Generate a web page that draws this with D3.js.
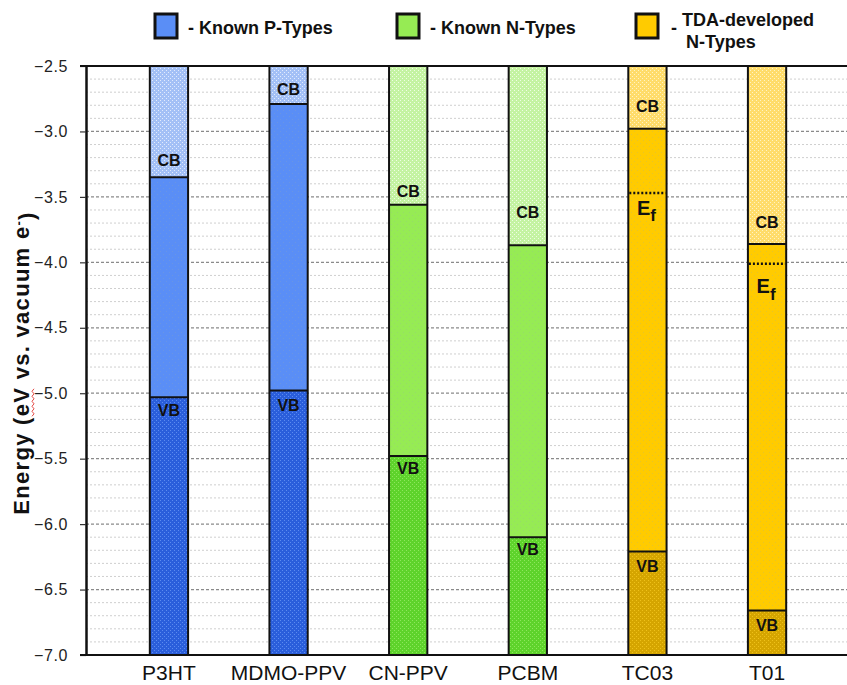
<!DOCTYPE html>
<html>
<head>
<meta charset="utf-8">
<script src="https://cdn.jsdelivr.net/npm/d3@7"></script>
<style>
  html, body { margin: 0; padding: 0; background: #fff; }
  svg text { font-family: "Liberation Sans", Arial, sans-serif; }
</style>
</head>
<body>
<svg id="chart" width="847" height="685"></svg>
<script>
// Materials and their energy levels (eV vs. vacuum)
const categories = ["P3HT", "MDMO-PPV", "CN-PPV", "PCBM", "TC03", "T01"];
const groups = ["p", "p", "n", "n", "tda", "tda"];
const cbLevels = [-3.35, -2.79, -3.56, -3.87, -2.98, -3.86];
const vbLevels = [-5.03, -4.98, -5.48, -6.10, -6.21, -6.66];
const fermiLevels = [null, null, null, null, -3.47, -4.01];
// where the band annotations sit, in eV
const cbLabelAt = [-3.22, -2.68, -3.46, -3.62, -2.81, -3.69];
const vbLabelAt = [-5.13, -5.09, -5.57, -6.19, -6.32, -6.77];
const efLabelAt = [null, null, null, null, -3.58, -4.18];
const yTicks = [-2.5, -3.0, -3.5, -4.0, -4.5, -5.0, -5.5, -6.0, -6.5, -7.0];
const yMinorTicks = d3.range(-25, -71, -1).map(v => v / 10);
const legendGroups = ["p", "n", "tda"];
const legendLabels = [["- Known P-Types"], ["- Known N-Types"], ["TDA-developed", "N-Types"]];

const palette = {
  p:   { cb: "#a3c0f6", cbDot: "#e2ebfd", mid: "#5a8ef6", vb: "#2a5edb", vbDot: "#5c8bf0" },
  n:   { cb: "#c4f3a2", cbDot: "#effde4", mid: "#96eb54", vb: "#5ed32b", vbDot: "#8de75c" },
  tda: { cb: "#ffdc6a", cbDot: "#fff3c4", mid: "#ffcb00", vb: "#d5a500", vbDot: "#efc11a" }
};

const svg = d3.select("#chart");
const plot = { left: 86, right: 847, top: 66, bottom: 655 };

const y = d3.scaleLinear().domain([-2.5, -7.0]).range([plot.top, plot.bottom]);
const x = d3.scaleBand().domain(categories)
  .range([plot.left + 4, plot.right - 1])
  .paddingInner(0.68).paddingOuter(0.5);

// textured fills for the band regions
const defs = svg.append("defs");
Object.entries(palette).forEach(([k, c]) => {
  const pc = defs.append("pattern").attr("id", "cb-" + k)
    .attr("width", 4).attr("height", 4).attr("patternUnits", "userSpaceOnUse");
  pc.append("rect").attr("width", 4).attr("height", 4).attr("fill", c.cb);
  pc.append("rect").attr("x", 0).attr("y", 0).attr("width", 1).attr("height", 1).attr("fill", c.cbDot);
  pc.append("rect").attr("x", 2).attr("y", 2).attr("width", 1).attr("height", 1).attr("fill", c.cbDot);

  const pv = defs.append("pattern").attr("id", "vb-" + k)
    .attr("width", 4).attr("height", 4).attr("patternUnits", "userSpaceOnUse");
  pv.append("rect").attr("width", 4).attr("height", 4).attr("fill", c.vb);
  pv.append("rect").attr("x", 0).attr("y", 0).attr("width", 1).attr("height", 1).attr("fill", c.vbDot);
  pv.append("rect").attr("x", 2).attr("y", 2).attr("width", 1).attr("height", 1).attr("fill", c.vbDot);

  const pm = defs.append("pattern").attr("id", "mid-" + k)
    .attr("width", 6).attr("height", 6).attr("patternUnits", "userSpaceOnUse");
  pm.append("rect").attr("width", 6).attr("height", 6).attr("fill", c.mid);
  pm.append("rect").attr("x", 1).attr("y", 2).attr("width", 1).attr("height", 1).attr("fill", "#9aa").attr("opacity", 0.25);
  pm.append("rect").attr("x", 4).attr("y", 5).attr("width", 1).attr("height", 1).attr("fill", "#9aa").attr("opacity", 0.25);
});

// gridlines
const grid = svg.append("g");
grid.selectAll("line.minor").data(yMinorTicks.filter(v => !yTicks.some(t => Math.abs(t - v) < 1e-6)))
  .join("line").attr("class", "minor")
  .attr("x1", plot.left).attr("x2", plot.right)
  .attr("y1", d => y(d)).attr("y2", d => y(d))
  .attr("stroke", "#cfcfcf").attr("stroke-width", 1).attr("stroke-dasharray", "2,2");
grid.selectAll("line.major").data(yTicks.slice(1, -1))
  .join("line").attr("class", "major")
  .attr("x1", plot.left).attr("x2", plot.right)
  .attr("y1", d => y(d)).attr("y2", d => y(d))
  .attr("stroke", "#8a8a8a").attr("stroke-width", 1.2).attr("stroke-dasharray", "3,2");

// y axis
const yAxis = svg.append("g").attr("transform", `translate(${plot.left},0)`)
  .call(d3.axisLeft(y).tickValues(yTicks).tickFormat(d3.format(".1f")).tickSize(6).tickSizeOuter(0).tickPadding(12));
yAxis.select(".domain").attr("stroke", "#111").attr("stroke-width", 2.5);
yAxis.selectAll(".tick line").attr("stroke", "#333").attr("stroke-width", 1.2);
yAxis.selectAll(".tick text").attr("font-size", 16).attr("fill", "#222")
  .attr("letter-spacing", "0.6px")
  .attr("font-family", "'Liberation Sans', Arial, sans-serif");

// top and bottom frame lines
svg.append("line").attr("x1", plot.left - 6).attr("x2", plot.right)
  .attr("y1", plot.top).attr("y2", plot.top).attr("stroke", "#111").attr("stroke-width", 2);
svg.append("line").attr("x1", plot.left - 6).attr("x2", plot.right)
  .attr("y1", plot.bottom).attr("y2", plot.bottom).attr("stroke", "#111").attr("stroke-width", 2);

// x axis
const xAxis = svg.append("g").attr("transform", `translate(0,${plot.bottom})`)
  .call(d3.axisBottom(x).tickSize(0).tickPadding(10));
xAxis.select(".domain").remove();
xAxis.selectAll(".tick text").attr("font-size", 21).attr("fill", "#111")
  .attr("font-family", "'Liberation Sans', Arial, sans-serif");

// bars: CB region, gap, VB region
const bars = svg.append("g").selectAll("g.bar").data(categories).join("g").attr("class", "bar");
const bw = x.bandwidth();
bars.append("rect").attr("x", d => x(d)).attr("width", bw)
  .attr("y", y(-2.5)).attr("height", (d, i) => y(cbLevels[i]) - y(-2.5))
  .attr("fill", (d, i) => `url(#cb-${groups[i]})`);
bars.append("rect").attr("x", d => x(d)).attr("width", bw)
  .attr("y", (d, i) => y(cbLevels[i])).attr("height", (d, i) => y(vbLevels[i]) - y(cbLevels[i]))
  .attr("fill", (d, i) => `url(#mid-${groups[i]})`);
bars.append("rect").attr("x", d => x(d)).attr("width", bw)
  .attr("y", (d, i) => y(vbLevels[i])).attr("height", (d, i) => y(-7.0) - y(vbLevels[i]))
  .attr("fill", (d, i) => `url(#vb-${groups[i]})`);
// band edges
bars.append("line").attr("x1", d => x(d)).attr("x2", d => x(d) + bw)
  .attr("y1", (d, i) => y(cbLevels[i])).attr("y2", (d, i) => y(cbLevels[i]))
  .attr("stroke", "#111").attr("stroke-width", 2);
bars.append("line").attr("x1", d => x(d)).attr("x2", d => x(d) + bw)
  .attr("y1", (d, i) => y(vbLevels[i])).attr("y2", (d, i) => y(vbLevels[i]))
  .attr("stroke", "#111").attr("stroke-width", 2);
bars.append("rect").attr("x", d => x(d)).attr("width", bw)
  .attr("y", y(-2.5)).attr("height", y(-7.0) - y(-2.5))
  .attr("fill", "none").attr("stroke", "#111").attr("stroke-width", 2);

// Fermi levels
bars.filter((d, i) => fermiLevels[i] !== null).append("line")
  .attr("x1", d => x(d) + 1).attr("x2", d => x(d) + bw - 1)
  .attr("y1", d => y(fermiLevels[categories.indexOf(d)]))
  .attr("y2", d => y(fermiLevels[categories.indexOf(d)]))
  .attr("stroke", "#111").attr("stroke-width", 2.5).attr("stroke-dasharray", "2,2");

// band labels
bars.append("text").attr("x", d => x(d) + bw / 2).attr("y", (d, i) => y(cbLabelAt[i]))
  .attr("dy", "0.36em").attr("text-anchor", "middle")
  .attr("font-size", 16).attr("font-weight", "bold").attr("fill", "#111").text("CB");
bars.append("text").attr("x", d => x(d) + bw / 2).attr("y", (d, i) => y(vbLabelAt[i]))
  .attr("dy", "0.36em").attr("text-anchor", "middle")
  .attr("font-size", 16).attr("font-weight", "bold").attr("fill", "#111").text("VB");
const ef = bars.filter((d, i) => efLabelAt[i] !== null).append("text")
  .attr("x", d => x(d) + bw / 2 - 1).attr("y", d => y(efLabelAt[categories.indexOf(d)]))
  .attr("dy", "0.36em").attr("text-anchor", "middle")
  .attr("font-size", 20).attr("font-weight", "bold").attr("fill", "#111");
ef.append("tspan").text("E");
ef.append("tspan").attr("dy", "0.4em").attr("font-size", 17).text("f");

// y axis title, with the spell-check squiggle under "eV"
const ytg = svg.append("g").attr("transform", "translate(29,363) rotate(-90)");
const yt = ytg.append("text")
  .attr("text-anchor", "middle").attr("font-size", 22).attr("font-weight", "bold")
  .attr("letter-spacing", "1.3px").attr("fill", "#111");
yt.append("tspan").text("Energy (eV vs. vacuum e");
yt.append("tspan").attr("dy", "-0.5em").attr("font-size", 13).text("-");
yt.append("tspan").attr("dy", "0.5em").text(")");
{
  const node = yt.node();
  const s = node.getStartPositionOfChar(8).x;
  const e = node.getEndPositionOfChar(9).x;
  const pts = d3.range(s, e + 0.01, 2.5).map((px, i) => [px, 3 + (i % 2 ? 2 : 0)]);
  ytg.append("path").attr("d", d3.line()(pts)).attr("fill", "none")
    .attr("stroke", "#e0322e").attr("stroke-width", 0.9);
}

// legend: swatch plus bold caption
const legX = [155, 397, 636];
const leg = svg.append("g").selectAll("g").data(legendGroups).join("g")
  .attr("transform", (d, i) => `translate(${legX[i]},0)`);
leg.append("rect").attr("y", 14).attr("width", 22).attr("height", 24)
  .attr("fill", d => palette[d].mid).attr("stroke", "#111").attr("stroke-width", 3);
const legText = (g, tx, ty, str) => g.append("text")
  .attr("x", tx).attr("y", ty).attr("font-size", 18).attr("font-weight", "bold")
  .attr("fill", "#111").text(str);
leg.each(function(d, i) {
  const g = d3.select(this);
  const lines = legendLabels[i];
  if (lines.length === 1) {
    legText(g, 33, 34, lines[0]);
  } else {
    legText(g, 35, 34, "-");
    legText(g, 46, 26, lines[0]);
    legText(g, 50, 48, lines[1]);
  }
});
</script>
</body>
</html>
